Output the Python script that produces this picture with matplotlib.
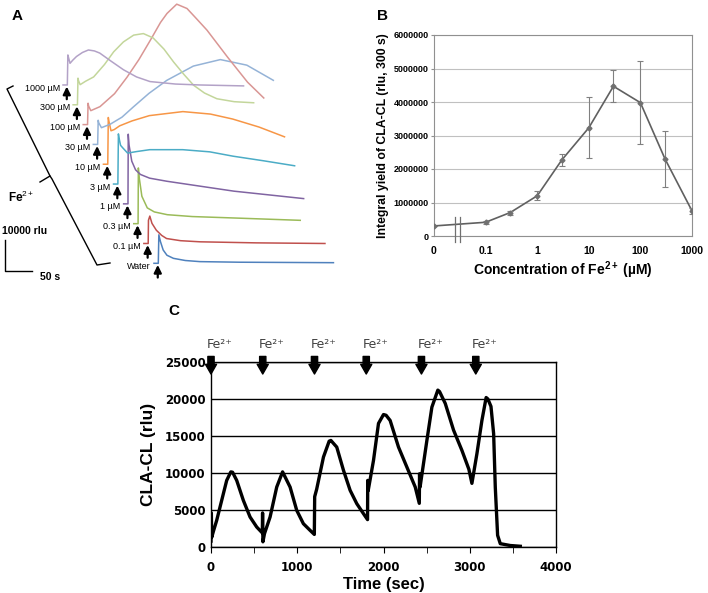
import numpy as np
import matplotlib
matplotlib.use('Agg')
import matplotlib.pyplot as plt
from matplotlib.lines import Line2D
import matplotlib.transforms as mtransforms

plt.rcParams['font.family'] = ['Liberation Sans', 'DejaVu Sans']
plt.rcParams['mathtext.fontset'] = 'custom'
plt.rcParams['mathtext.rm'] = 'Liberation Sans'
plt.rcParams['mathtext.bf'] = 'Liberation Sans:bold'
plt.rcParams['mathtext.it'] = 'Liberation Sans:italic'

# ---- panel A: CL traces (time in s after injection, signal in rlu above own baseline)
a_labels = ['Water', '0.1 µM', '0.3 µM', '1 µM', '3 µM', '10 µM', '30 µM', '100 µM', '300 µM', '1000 µM']
a_colors = ['#4F81BD', '#C0504D', '#9BBB59', '#8064A2', '#4BACC6', '#F79646',
            '#95B3D7', '#D99694', '#C3D69B', '#B3A2C7']
a_t = [
    [-8, 0, 1, 4, 9, 16, 28, 50, 77, 150, 324],
    [-8, 0, 0.5, 3, 7, 15, 25, 34, 60, 96, 200, 327],
    [-8, 0, 0.5, 2, 7, 17, 30, 54, 100, 177, 300],
    [-8, 0, 0.5, 2, 7, 14, 23, 40, 72, 130, 196, 325],
    [-8, 0, 1, 2, 5, 9, 18, 35, 59, 120, 170, 213, 270, 327],
    [-8, 0, 1, 2, 6, 12, 22, 45, 77, 139, 190, 231, 280, 327],
    [-8, 0, 1, 2, 7, 23, 45, 66, 95, 128, 177, 227, 276, 325],
    [-8, 0, 1, 2, 6, 23, 50, 73, 95, 116, 135, 147, 165, 184, 200, 221, 259, 296, 326],
    [-8, 0, 1, 2, 5, 15, 30, 50, 67, 85, 104, 122, 140, 160, 178, 197, 215, 235, 258, 290, 326],
    [-8, 0, 1, 2, 5, 10, 17, 28, 39, 50, 60, 80, 104, 128, 153, 200, 245, 326],
]
a_y = [
    [0, 0, 9200, 7000, 4300, 2600, 1600, 900, 540, 350, 200],
    [0, 0, 7500, 8850, 6500, 4300, 2600, 1600, 900, 540, 200, 0],
    [0, 0, 18000, 15000, 8850, 5100, 3800, 2900, 2300, 1840, 1080],
    [0, 0, 22500, 19000, 13800, 11000, 9500, 8300, 7300, 5800, 4100, 1700],
    [0, 0, 16200, 15000, 12500, 11700, 10000, 10500, 11100, 11100, 10400, 9000, 7500, 5900],
    [0, 0, 15100, 14000, 10800, 11200, 12400, 14000, 15700, 17000, 16200, 14600, 12000, 8850],
    [0, 0, 7800, 7000, 5400, 6500, 8800, 12100, 16500, 20700, 25300, 27400, 25600, 20700],
    [0, 0, 6900, 6000, 4500, 5800, 10000, 15300, 21000, 27200, 33000, 35900, 38900, 37500,
     34500, 30500, 21800, 13700, 8600],
    [0, 0, 8600, 7800, 6500, 7600, 9000, 13000, 17100, 20300, 22500, 23000, 21600, 18000,
     13800, 9800, 6300, 3800, 1950, 1000, 650],
    [0, 0, 9700, 9000, 7000, 8000, 9200, 10500, 11300, 11000, 10300, 7800, 4900, 2600,
     1100, 300, 0, -300],
]

# ---- panel B: integral yield vs concentration
b_conc = [0, 0.1, 0.3, 1, 3, 10, 30, 100, 300, 1000]
b_mean = [300000, 410000, 700000, 1200000, 2270000, 3230000, 4470000, 3980000, 2300000, 750000]
b_err = [0, 40000, 60000, 130000, 170000, 910000, 480000, 1240000, 830000, 80000]
b_ticks = ['0', '0.1', '1', '10', '100', '1000']

# ---- panel C: repeated Fe2+ additions
c_time = [0, 4, 8, 30, 66, 124, 182, 230, 250, 298, 375, 453, 530, 595,
          598, 602, 620, 685, 762, 830, 917, 994, 1071, 1149, 1198,
          1202, 1225, 1304, 1370, 1390, 1458, 1536, 1613, 1690, 1768, 1815,
          1817, 1822, 1884, 1942, 2000, 2030, 2077, 2174, 2271, 2368, 2415,
          2418, 2424, 2503, 2561, 2630, 2650, 2716, 2812, 2909, 2990, 3025,
          3083, 3141, 3190, 3210, 3246, 3277, 3296, 3323, 3354, 3470, 3586]
c_cl = [800, 4600, 1300, 2200, 3600, 6300, 9000, 10150, 10100, 9000, 6300, 4050, 2700, 1900,
        4600, 700, 1800, 4050, 8100, 10150, 8100, 4950, 3150, 2250, 1700,
        6800, 7800, 12160, 14300, 14400, 13500, 10360, 7660, 5860, 4500, 3700,
        9000, 7600, 11700, 16700, 17900, 17800, 17100, 13500, 10800, 8100, 5900,
        9900, 8100, 14400, 18900, 21200, 21000, 19400, 15800, 13060, 10500, 8600,
        12600, 17100, 20200, 20000, 19000, 15300, 8100, 1580, 450, 200, 100]
c_additions = [0, 600, 1200, 1800, 2440, 3070]

W, H = 708, 593
fig = plt.figure(figsize=(W / 100, H / 100), dpi=100)


def fpx(px, py):
    return px / W, 1 - py / H


# ================= A =================
A_S_PX, A_RLU_PX = 1.85, 323.0
A_X0, A_Y0 = 158.3, 263.3


def a_px(px, py):
    return (px - A_X0) * A_S_PX, (A_Y0 - py) * A_RLU_PX


ax_a = fig.add_axes([0, 1 - 290 / H, 354 / W, 290 / H])
ax_a.axis('off')
ax_a.set_xlim(a_px(0, 0)[0], a_px(354, 0)[0])
ax_a.set_ylim(a_px(0, 290)[1], a_px(0, 0)[1])

step_t, step_y = -18.7, 6400
for i in range(len(a_labels)):
    t0, y0 = i * step_t, i * step_y
    ax_a.plot(np.array(a_t[i]) + t0, np.array(a_y[i]) + y0, color=a_colors[i], lw=1.1)
    ax_a.text(t0 - 14, y0 - 1000, a_labels[i], ha='right', va='center', fontsize=6.5)
    ax_a.annotate('', xy=(t0 - 1, y0 - 500), xytext=(t0 - 1, y0 - 4600),
                  arrowprops=dict(arrowstyle='-|>,head_length=0.45,head_width=0.22',
                                  lw=1.6, color='k', mutation_scale=10,
                                  shrinkA=0, shrinkB=0))

# scale bar
ct, cy = a_px(5, 271)
ax_a.plot([ct, ct, ct + 50], [cy + 10000, cy, cy], color='k', lw=1)
fig.text(*fpx(2, 231), '10000 rlu', fontsize=7.5, fontweight='bold', va='center', ha='left')
fig.text(*fpx(40, 277), '50 s', fontsize=7.5, fontweight='bold', va='center', ha='left')
fig.text(*fpx(21, 197), r'Fe$^{2+}$', fontsize=8.5, fontweight='bold', va='center', ha='center')

# bracket
for seg in ([(13, 86), (7, 89), (50, 176)],
            [(40, 182), (50, 176), (52, 179), (97, 265), (110, 263)]):
    xs = [p[0] / W for p in seg]
    ys = [1 - p[1] / H for p in seg]
    fig.add_artist(Line2D(xs, ys, transform=fig.transFigure, color='k', lw=1))

# ================= B =================
ax_b = fig.add_axes([434 / W, 1 - 236 / H, (692 - 434) / W, (236 - 35) / H])
b_x = [-2 if c == 0 else np.log10(c) for c in b_conc]
ax_b.plot(b_x, b_mean, color='#606060', lw=1.2, zorder=3)
ax_b.errorbar(b_x, b_mean, yerr=b_err, fmt='D', ms=2.5, color='#707070',
              ecolor='#808080', elinewidth=0.8, capsize=2, capthick=0.8, zorder=4)
ax_b.set_xlim(-2, 3)
ax_b.set_ylim(0, 6000000)
ax_b.set_yticks(np.arange(0, 6000001, 1000000))
ax_b.set_yticklabels([str(v) for v in range(0, 6000001, 1000000)])
ax_b.set_xticks([-2, -1, 0, 1, 2, 3])
ax_b.set_xticklabels(b_ticks)
ax_b.grid(axis='y', color='#c0c0c0', lw=0.8)
ax_b.set_axisbelow(True)
for s in ax_b.spines.values():
    s.set_color('#909090')
    s.set_linewidth(0.8)
ax_b.tick_params(axis='y', length=2, color='#909090', labelsize=6.5, pad=2)
ax_b.tick_params(axis='x', length=0, labelsize=7.5, pad=7)
for lab in ax_b.get_xticklabels() + ax_b.get_yticklabels():
    lab.set_fontweight('bold')
ax_b.set_ylabel('Integral yield of CLA-CL (rlu, 300 s)', fontsize=8.8, fontweight='bold', labelpad=3)
ax_b.set_xlabel(r'Concentration of Fe$^{\mathbf{2+}}$ (µM)', fontsize=10, fontweight='bold', labelpad=3)
for bx in (-1.59, -1.50):
    ax_b.plot([bx, bx], [-180000, 570000], color='#707070', lw=0.9, clip_on=False, zorder=5)

# ================= C =================
ax_c = fig.add_axes([211 / W, 1 - 547 / H, 345 / W, 185 / H])
ax_c.plot(c_time, c_cl, color='k', lw=2.4)
ax_c.set_xlim(0, 4000)
ax_c.set_ylim(0, 25000)
ax_c.set_xticks([0, 1000, 2000, 3000, 4000])
ax_c.set_xticks(np.arange(0, 4001, 500), minor=True)
ax_c.set_yticks(np.arange(0, 25001, 5000))
ax_c.grid(axis='y', color='k', lw=1)
ax_c.set_axisbelow(True)
for s in ax_c.spines.values():
    s.set_color('k')
    s.set_linewidth(1)
ax_c.tick_params(axis='x', which='both', length=4, direction='out', labelsize=8.5, pad=6)
ax_c.tick_params(axis='y', length=0, labelsize=8.5, pad=4)
for lab in ax_c.get_xticklabels() + ax_c.get_yticklabels():
    lab.set_fontweight('bold')
    lab.set_fontfamily('DejaVu Sans')
ax_c.set_ylabel('CLA-CL (rlu)', fontsize=12.5, fontweight='bold', labelpad=6)
ax_c.set_xlabel('Time (sec)', fontsize=12, fontweight='bold', labelpad=2)

trans_c = mtransforms.blended_transform_factory(ax_c.transData, ax_c.transAxes)
for tx in c_additions:
    ax_c.annotate('', xy=(tx, 0.935), xytext=(tx, 1.03), xycoords=trans_c, textcoords=trans_c,
                  arrowprops=dict(arrowstyle='simple,head_length=0.7,head_width=0.8,tail_width=0.45',
                                  color='k', mutation_scale=10, shrinkA=0, shrinkB=0),
                  annotation_clip=False)
    ax_c.text(tx - 45, 1.092, 'Fe²⁺', transform=trans_c, fontsize=9, color='#404040',
              ha='left', va='center', family=['DejaVu Sans'])

# panel letters
fig.text(*fpx(12, 16), 'A', fontsize=11, fontweight='bold', va='center', ha='left')
fig.text(*fpx(377, 16), 'B', fontsize=11, fontweight='bold', va='center', ha='left')
fig.text(*fpx(168, 311), 'C', fontsize=11, fontweight='bold', va='center', ha='left')

fig.savefig('out.png', dpi=100)
